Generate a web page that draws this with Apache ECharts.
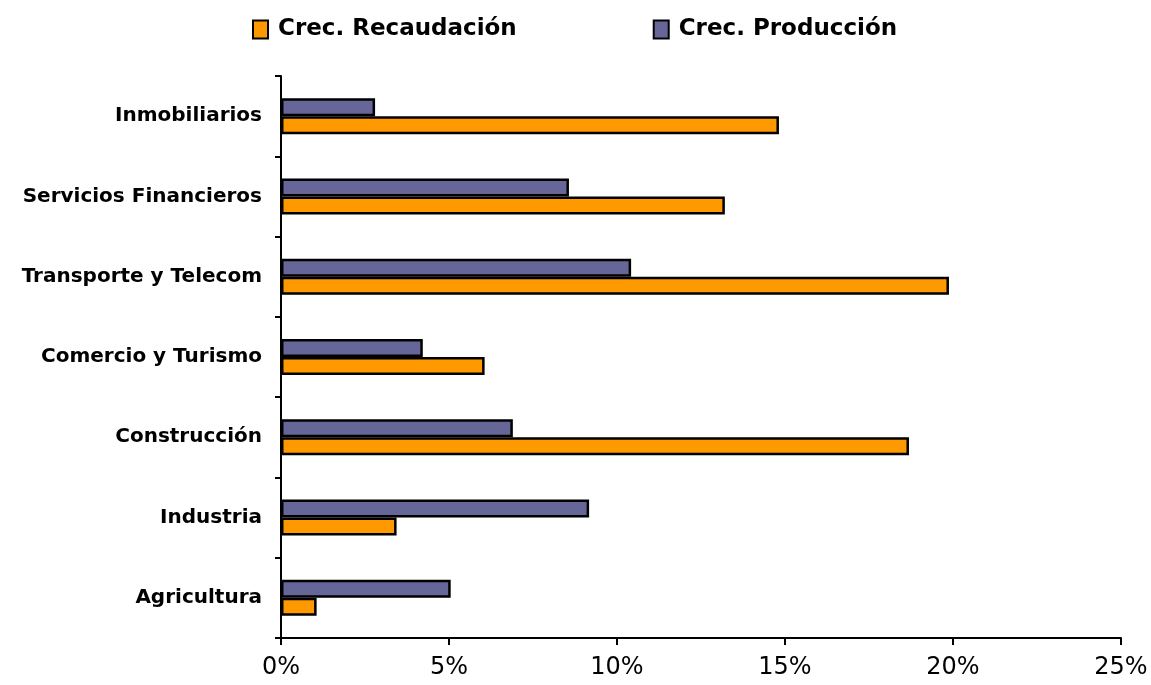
<!DOCTYPE html>
<html>
<head>
<meta charset="utf-8">
<script src="https://cdn.jsdelivr.net/npm/echarts@6/dist/echarts.min.js"></script>
<style>
  html, body { margin: 0; padding: 0; background: #fff; }
  #chart { width: 1151px; height: 685px; }
</style>
</head>
<body>
<div id="chart"></div>
<script>
// sectors, bottom to top
const sectors = ['Agricultura', 'Industria', 'Construcción', 'Comercio y Turismo',
  'Transporte y Telecom', 'Servicios Financieros', 'Inmobiliarios'];
const recaudacion = [1.06, 3.44, 18.69, 6.06, 19.88, 13.21, 14.82];
const produccion = [5.05, 9.17, 6.90, 4.22, 10.42, 8.57, 2.80];
const xTicks = [0, 5, 10, 15, 20, 25];

const chart = echarts.init(document.getElementById('chart'));

const option = {
  animation: false,
  textStyle: { fontFamily: 'DejaVu Sans', color: '#000' },
  legend: {
    top: 13,
    left: 247,
    itemGap: 136,
    itemWidth: 15,
    itemHeight: 18,
    icon: 'rect',
    textStyle: { fontSize: 23, fontWeight: 'bold', color: '#000', padding: [0, 0, 0, 5] },
    data: ['Crec. Recaudación', 'Crec. Producción']
  },
  grid: { left: 281, right: 30, top: 76, bottom: 47 },
  xAxis: {
    type: 'value',
    min: xTicks[0],
    max: xTicks[xTicks.length - 1],
    interval: 5,
    splitLine: { show: false },
    axisLine: { show: true, lineStyle: { color: '#000', width: 2 } },
    axisTick: { show: true, length: 7, lineStyle: { color: '#000', width: 2 } },
    axisLabel: { fontSize: 24, color: '#000', margin: 18, formatter: '{value}%' }
  },
  yAxis: {
    type: 'category',
    data: sectors,
    axisLine: { show: true, lineStyle: { color: '#000', width: 2 } },
    axisTick: { show: true, length: 6, lineStyle: { color: '#000', width: 2 } },
    axisLabel: { fontSize: 20, fontWeight: 'bold', color: '#000', margin: 19 }
  },
  series: [
    {
      name: 'Crec. Producción',
      type: 'bar',
      data: produccion,
      barWidth: 18,
      barGap: '0%',
      itemStyle: { color: '#666699', borderColor: '#000', borderWidth: 2.5 }
    },
    {
      name: 'Crec. Recaudación',
      type: 'bar',
      data: recaudacion,
      barWidth: 18,
      barGap: '0%',
      itemStyle: { color: '#FF9900', borderColor: '#000', borderWidth: 2.5 }
    }
  ]
};

chart.setOption(option);
</script>
</body>
</html>
